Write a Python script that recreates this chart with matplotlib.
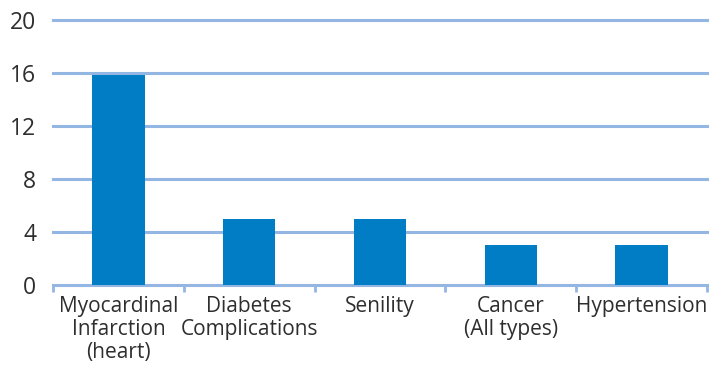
import matplotlib
matplotlib.use("Agg")
import matplotlib.pyplot as plt
import numpy as np

categories = ["Myocardinal\nInfarction\n(heart)", "Diabetes\nComplications", "Senility",
              "Cancer\n(All types)", "Hypertension"]
values = [15.85, 5, 5, 3, 3]
yticks = [0, 4, 8, 12, 16, 20]

bar_color = "#007DC5"
grid_color = "#93B6E3"
text_color = "#2E2E2E"

plt.rcParams['font.family'] = ['Open Sans', 'DejaVu Sans']

fig = plt.figure(figsize=(7.14, 3.65), dpi=100)
ax = fig.add_axes([53/714, 1-285/365, (707-53)/714, (285-20)/365])

x = np.arange(len(categories)) + 0.5
ax.bar(x, values, width=0.4, color=bar_color, zorder=3)

ax.set_xlim(0, len(categories))
ax.set_ylim(0, 20)
ax.set_yticks(yticks)
ax.set_yticklabels([str(v) for v in yticks], fontsize=16.5, color=text_color)
for v in yticks:
    ax.axhline(v, color=grid_color, lw=2.2, zorder=1, clip_on=False)

ax.set_xticks(x)
ax.set_xticklabels(categories, fontsize=15, color=text_color, linespacing=1.13)
ax.set_xticks(np.arange(len(categories) + 1), minor=True)
ax.tick_params(axis='x', which='major', length=0, pad=8)
ax.tick_params(axis='x', which='minor', length=5, width=2, color=grid_color, direction='out')
ax.tick_params(axis='y', length=0, pad=12)

for s in ax.spines.values():
    s.set_visible(False)
ax.set_facecolor('none')

fig.savefig("out.png", dpi=100)
